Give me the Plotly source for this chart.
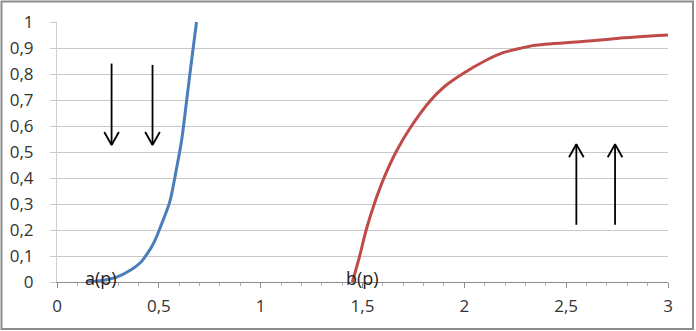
import plotly.graph_objects as go

# Blue curve a(p)
a_k = [0.147, 0.22, 0.29, 0.36, 0.41, 0.44, 0.475, 0.505, 0.554, 0.587, 0.611, 0.636, 0.66, 0.685]
a_v = [0.0, 0.006, 0.018, 0.045, 0.075, 0.105, 0.15, 0.206, 0.309, 0.437, 0.54, 0.694, 0.847, 1.0]

# Red curve b(p)
b_k = [1.45, 1.485, 1.518, 1.559, 1.608, 1.665, 1.738, 1.836, 1.90, 1.99, 2.10, 2.19, 2.27, 2.34, 2.58, 2.75, 3.0]
b_v = [0.0, 0.097, 0.2, 0.303, 0.405, 0.501, 0.597, 0.70, 0.75, 0.80, 0.85, 0.882, 0.898, 0.91, 0.925, 0.937, 0.95]

# Arrows (x, y_start, y_end)
arrows = [(0.268, 0.84, 0.527), (0.469, 0.835, 0.527), (2.55, 0.22, 0.53), (2.74, 0.22, 0.53)]
head_dx, head_dy = 0.036, 0.05

y_ticks = [0, 0.1, 0.2, 0.3, 0.4, 0.5, 0.6, 0.7, 0.8, 0.9, 1]
y_labels = ["0", "0,1", "0,2", "0,3", "0,4", "0,5", "0,6", "0,7", "0,8", "0,9", "1"]
x_ticks = [0, 0.5, 1, 1.5, 2, 2.5, 3]
x_labels = ["0", "0,5", "1", "1,5", "2", "2,5", "3"]

fig = go.Figure()
fig.add_trace(go.Scatter(x=a_k, y=a_v, mode="lines",
                         line=dict(color="#4a7ebb", width=3, shape="spline", smoothing=0.8),
                         hoverinfo="skip"))
fig.add_trace(go.Scatter(x=b_k, y=b_v, mode="lines",
                         line=dict(color="#be4b48", width=3, shape="spline", smoothing=0.8),
                         hoverinfo="skip"))

for (x, y0, y1) in arrows:
    d = 1 if y1 < y0 else -1  # head opens toward start
    fig.add_trace(go.Scatter(x=[x, x, None, x - head_dx, x, x + head_dx],
                             y=[y0, y1, None, y1 + d * head_dy, y1, y1 + d * head_dy],
                             mode="lines", line=dict(color="#000000", width=1.8),
                             hoverinfo="skip", cliponaxis=False))

FAM = "Open Sans, Liberation Sans, sans-serif"
tickfont = dict(family=FAM, size=17, color="#333333")
lblfont = dict(family=FAM, size=18, color="#222222")

ann = []
ann.append(dict(x=0.216, y=0.015, xref="x", yref="y", text="a(p)", showarrow=False, font=lblfont))
ann.append(dict(x=1.50, y=0.015, xref="x", yref="y", text="b(p)", showarrow=False, font=lblfont))
ann.append(dict(x=3.01, y=0.09, xref="x", yref="y", text="k", showarrow=False, xanchor="left", font=lblfont))

L, R, T, B = 57, 28, 22, 49
W, H = 696, 331
pw, ph = W - L - R, H - T - B

fig.update_layout(
    width=W, height=H,
    margin=dict(l=L, r=R, t=T, b=B, autoexpand=False),
    paper_bgcolor="white", plot_bgcolor="white",
    showlegend=False,
    font=tickfont,
    annotations=ann,
    shapes=[dict(type="rect", xref="paper", yref="paper",
                 x0=(1.5 - L) / pw, x1=(693 - L) / pw,
                 y0=(ph + T - 329) / ph, y1=(ph + T - 1.5) / ph,
                 line=dict(color="#8c8c8c", width=2), fillcolor="rgba(0,0,0,0)", layer="below")],
    xaxis=dict(range=[0, 3], tickvals=x_ticks, ticktext=x_labels, showgrid=False, zeroline=False,
               showline=True, linecolor="#8c8c8c", linewidth=1, tickfont=tickfont,
               ticks="outside", ticklen=5, tickcolor="#8c8c8c",
               minor=dict(dtick=0.1, ticks="outside", ticklen=3, tickcolor="#b0b0b0", showgrid=False),
               ticklabelstandoff=4, fixedrange=True),
    yaxis=dict(range=[0, 1], tickvals=y_ticks, ticktext=y_labels, showgrid=True, gridcolor="#c8c8c8",
               zeroline=False, showline=True, linecolor="#d0d0d0", linewidth=1, tickfont=tickfont,
               ticks="outside", ticklen=6, tickcolor="#c8c8c8",
               ticklabelstandoff=13, fixedrange=True),
)

fig.write_html("out.html", config={"displayModeBar": False},
               post_script="document.body.style.margin='0';document.body.style.overflow='hidden';")
